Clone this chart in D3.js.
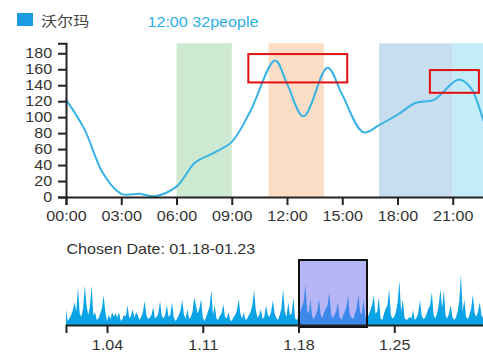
<!DOCTYPE html>
<html>
<head>
<meta charset="utf-8">
<script src="https://cdn.jsdelivr.net/npm/d3@7"></script>
<style>
    body { margin: 0; background: #fff; }
    svg { display: block; font-family: "Liberation Sans", Arial, sans-serif; }
    .axis path, .axis line { stroke: #222; stroke-width: 2px; }
    .axis text { font-size: 14px; fill: #333; }
</style>
</head>
<body>
<div id="chart"></div>
<script>
// ---- data ----
let seriesName = "沃尔玛";
let hoverLabel = "12:00 32people";
let chosenLabel = "Chosen Date: 01.18-01.23";

// hour of day / people (curve of the main chart)
let hours  = [0, 1, 2, 3, 4, 4.8, 6, 7, 8, 9, 10, 11.35, 12, 12.9, 14.2, 15, 16.15, 17, 18, 19, 20, 21.3, 22, 23, 24];
let people = [122, 85, 30, 4, 4, 1, 13, 43, 55, 69, 107, 171, 142, 101, 162, 128, 81, 90, 103, 118, 122, 147, 136, 78, 55];

let hourTicks = [0, 3, 6, 9, 12, 15, 18, 21];
let peopleTicks = [0, 20, 40, 60, 80, 100, 120, 140, 160, 180];

// highlighted time ranges [from, to] in hours
let bandRanges = [[6, 9], [11, 14], [17, 21], [21, 24]];
let bandColors = ["#cde9d2", "#fcdec6", "#c7deee", "#c2ecf8"];

// annotation boxes: [hourFrom, hourTo, peopleLow, peopleHigh]
let boxes = [[9.9, 15.27, 143.5, 179], [19.76, 22.42, 130.5, 159]];

// January overview, one value per 3 hours (8 per day)
let monthly = [
    48, 12, 20, 30, 45, 69, 40, 114,
    35, 25, 50, 120, 60, 30, 55, 120,
    28, 39, 15, 20, 35, 50, 90, 40,
    12, 30, 18, 39, 25, 36, 22, 39,
    12, 18, 30, 25, 60, 20, 28, 48,
    22, 39, 30, 15, 25, 40, 72, 30,
    18, 22, 30, 54, 20, 25, 35, 72,
    28, 20, 30, 60, 25, 30, 69, 24,
    12, 20, 30, 45, 75, 30, 20, 48,
    18, 25, 40, 84, 60, 35, 50, 78,
    22, 12, 25, 40, 55, 105, 30, 60,
    20, 15, 28, 35, 63, 25, 20, 39,
    15, 12, 25, 30, 45, 78, 35, 20,
    39, 15, 20, 30, 40, 60, 105, 45,
    22, 30, 48, 18, 25, 60, 30, 25,
    40, 75, 35, 22, 15, 30, 50, 108,
    40, 25, 69, 30, 35, 84, 20, 15,
    25, 40, 55, 70, 123, 45, 35, 78,
    25, 18, 30, 45, 78, 30, 22, 40,
    50, 60, 99, 35, 20, 30, 40, 69,
    25, 15, 28, 40, 55, 90, 30, 22,
    18, 35, 50, 93, 40, 30, 78, 25,
    15, 30, 45, 60, 90, 35, 40, 84,
    20, 15, 35, 50, 60, 108, 30, 20,
    25, 40, 70, 135, 40, 78, 22, 15,
    18, 25, 20, 45, 15, 22, 35, 75,
    30, 18, 22, 35, 50, 60, 99, 30,
    20, 35, 60, 108, 50, 105, 30, 20,
    35, 60, 25, 15, 22, 40, 70, 153,
    40, 78, 25, 18, 30, 50, 93, 35,
    25, 40, 69, 30, 20, 45, 80, 30
];
let monthStart = new Date(2020, 0, 1);
let monthEnd = new Date(2020, 1, 1);
let dayTicks = [new Date(2020, 0, 4), new Date(2020, 0, 11), new Date(2020, 0, 18), new Date(2020, 0, 25)];
let chosenRange = [new Date(2020, 0, 18), new Date(2020, 0, 23)];

// ---- drawing ----
let width = 483, height = 357;
let stretch = "scale(1.15,1)";

let svg = d3.select("#chart").append("svg")
    .attr("width", width)
    .attr("height", height);

// header / legend
svg.append("rect")
    .attr("x", 17).attr("y", 13)
    .attr("width", 16).attr("height", 13)
    .attr("fill", "#1b9be2");

svg.append("text")
    .attr("transform", "translate(41,26) " + stretch)
    .style("font-family", "'Noto Sans CJK SC', sans-serif")
    .style("font-size", "14px")
    .attr("fill", "#444")
    .text(seriesName);

svg.append("text")
    .attr("transform", "translate(147.5,27) " + stretch)
    .style("font-size", "14px")
    .attr("fill", "#2aaee6")
    .text(hoverLabel);

// main chart
let x = d3.scaleLinear().domain([0, 24]).range([66, 508]);
let y = d3.scaleLinear().domain([0, 192.5]).range([197, 43.3]);

let main = svg.append("g").attr("class", "main");

main.selectAll("rect.band")
    .data(bandRanges)
    .enter()
    .append("rect")
    .attr("class", "band")
    .attr("x", d => x(d[0]))
    .attr("width", d => x(d[1]) - x(d[0]))
    .attr("y", y(192.5))
    .attr("height", y(0) - y(192.5))
    .attr("fill", (d, i) => bandColors[i]);

let points = hours.map((h, i) => ({h: h, v: people[i]}));

let line = d3.line()
    .x(d => x(d.h))
    .y(d => y(d.v))
    .curve(d3.curveCatmullRom.alpha(0.5));

main.append("path")
    .datum(points)
    .attr("d", line)
    .attr("fill", "none")
    .attr("stroke", "#38b3e4")
    .attr("stroke-width", 2);

main.selectAll("rect.box")
    .data(boxes)
    .enter()
    .append("rect")
    .attr("class", "box")
    .attr("x", d => x(d[0]))
    .attr("y", d => y(d[3]))
    .attr("width", d => x(d[1]) - x(d[0]))
    .attr("height", d => y(d[2]) - y(d[3]))
    .attr("fill", "none")
    .attr("stroke", "#e01010")
    .attr("stroke-width", 2);

let fmtHour = h => d3.format("02")(h) + ":00";

main.append("g")
    .attr("class", "axis")
    .attr("transform", "translate(0," + y(0) + ")")
    .call(d3.axisBottom(x).tickValues(hourTicks).tickFormat(fmtHour).tickSize(8).tickPadding(6))
    .selectAll("text").attr("transform", stretch);

main.append("g")
    .attr("class", "axis")
    .attr("transform", "translate(" + x(0) + ",0)")
    .call(d3.axisLeft(y).tickValues(peopleTicks).tickSize(8).tickPadding(4))
    .selectAll("text").attr("transform", stretch);

// overview (brush) chart
let xt = d3.scaleTime().domain([monthStart, monthEnd]).range([66, 490]);
let yt = d3.scaleLinear().domain([0, 200]).range([325, 259]);

let overview = monthly.map((v, i) => ({t: d3.timeHour.offset(monthStart, i * 3), v: v}));

let area = d3.area()
    .x(d => xt(d.t))
    .y0(yt(0))
    .y1(d => yt(d.v));

svg.append("text")
    .attr("transform", "translate(66.5,254) " + stretch)
    .style("font-size", "14px")
    .attr("fill", "#333")
    .text(chosenLabel);

svg.append("path")
    .datum(overview)
    .attr("d", area)
    .attr("fill", "#0aa3e6");

let brush = d3.brushX().extent([[66, 260], [490, 326.5]]);
let brushG = svg.append("g").attr("class", "brush").call(brush);
brushG.call(brush.move, chosenRange.map(xt));
brushG.select(".selection")
    .attr("fill", "#6e6ef0")
    .attr("fill-opacity", 0.5)
    .attr("stroke", "#111")
    .attr("stroke-width", 2);

svg.append("g")
    .attr("class", "axis")
    .attr("transform", "translate(0," + yt(0) + ")")
    .call(d3.axisBottom(xt).tickValues(dayTicks).tickFormat(d3.timeFormat("%-m.%d")).tickSize(8).tickPadding(7))
    .selectAll("text").attr("transform", stretch);
</script>
</body>
</html>
